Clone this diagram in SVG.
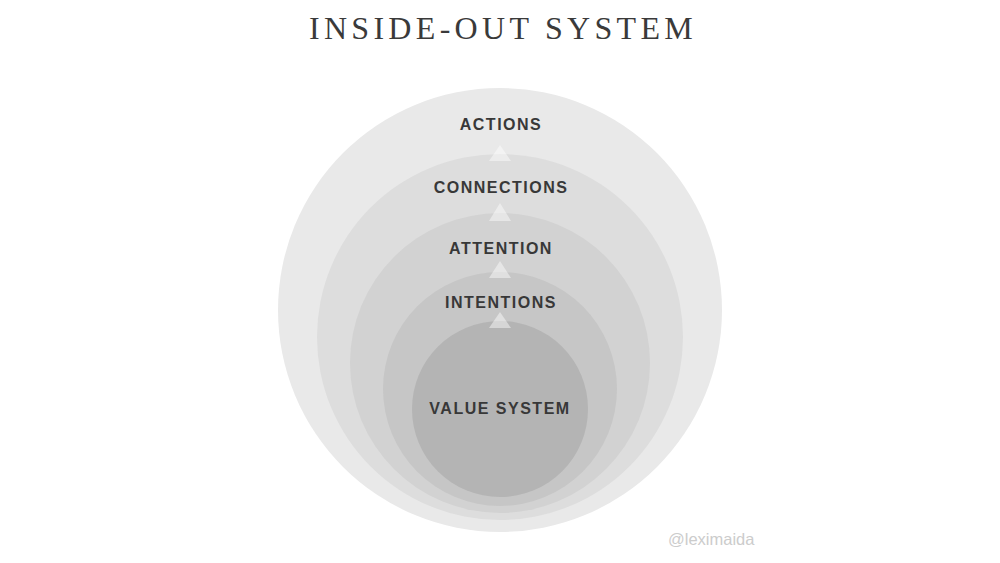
<svg xmlns="http://www.w3.org/2000/svg" width="1000" height="563" viewBox="0 0 1000 563">
  <style>
    .lbl { font-family: "Liberation Sans", Arial, sans-serif; font-weight: bold; font-size: 16px; fill: #383838; text-anchor: middle; letter-spacing: 1.5px; }
    .title { font-family: "Liberation Serif", "Times New Roman", serif; font-size: 32px; fill: #3a3a3a; text-anchor: middle; letter-spacing: 4.3px; }
    .wm { font-family: "Liberation Sans", Arial, sans-serif; font-size: 16.5px; fill: #cccccc; }
    .arrow { fill: #ffffff; fill-opacity: 0.45; }
  </style>
  <rect width="1000" height="563" fill="#ffffff"/>
  <text class="title" x="503" y="39">INSIDE-OUT SYSTEM</text>
  <g id="actions">
    <circle cx="500" cy="310" r="222" fill="#e9e9e9"/>
    <text class="lbl" x="501" y="130">ACTIONS</text>
  </g>
  <g id="connections">
    <circle cx="500" cy="337" r="183" fill="#dddddd"/>
    <text class="lbl" x="501" y="193">CONNECTIONS</text>
  </g>
  <g id="attention">
    <circle cx="500" cy="363" r="150" fill="#d2d2d2"/>
    <text class="lbl" x="501" y="254">ATTENTION</text>
  </g>
  <g id="intentions">
    <circle cx="500" cy="389" r="117" fill="#c6c6c6"/>
    <text class="lbl" x="501" y="308">INTENTIONS</text>
  </g>
  <g id="value-system">
    <circle cx="500" cy="409" r="88" fill="#b4b4b4"/>
    <text class="lbl" x="500" y="414">VALUE SYSTEM</text>
  </g>
  <g id="connectors">
    <polygon class="arrow" points="500,145 511,161 489,161"/>
    <polygon class="arrow" points="500,203 511,221 489,221"/>
    <polygon class="arrow" points="500,261 511,278 489,278"/>
    <polygon class="arrow" points="500,312 511,328 489,328"/>
  </g>
  <text class="wm" x="668" y="545">@leximaida</text>
</svg>
